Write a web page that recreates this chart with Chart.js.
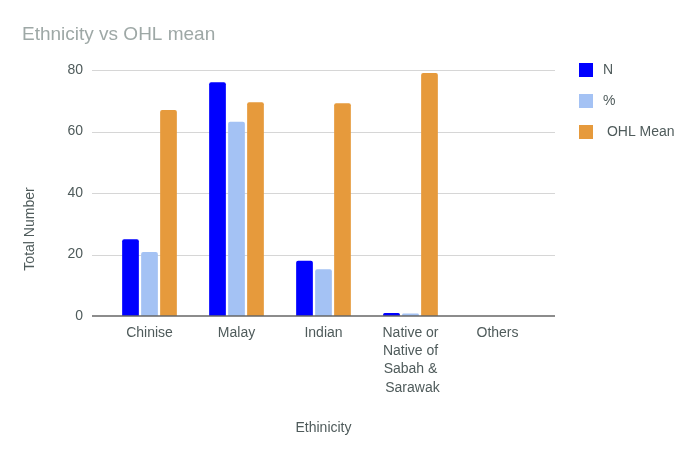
<!DOCTYPE html>
<html>
<head>
<meta charset="utf-8">
<title>Ethnicity vs OHL mean</title>
<script src="https://cdn.jsdelivr.net/npm/chart.js@4.4.1/dist/chart.umd.min.js"></script>
<style>
  html, body { margin: 0; padding: 0; background: #fff; }
  #wrap { width: 698px; height: 460px; }
</style>
</head>
<body>
<div id="wrap"><canvas id="grafico" width="698" height="460"></canvas></div>
<script>
// dados
const categorias = ['Chinise', 'Malay', 'Indian', ['Native or', 'Native of', 'Sabah &', ' Sarawak'], 'Others'];
const valoresN = [25, 76, 18, 1, null];
const valoresPct = [20.8, 63.2, 15.2, 0.8, null];
const valoresOHL = [67, 69.5, 69.2, 79, null];
const ticksY = [0, 20, 40, 60, 80];

const corTexto = '#4f5b5b';
const fonte = 'Arial, "Liberation Sans", sans-serif';

// linhas de grade mais largas que a área das barras, título, legenda e títulos dos eixos
const extras = {
  id: 'extras',
  beforeDatasetsDraw(chart) {
    const { ctx, chartArea, scales } = chart;
    ctx.save();
    ctx.strokeStyle = '#d6d6d6';
    ctx.lineWidth = 1;
    ticksY.forEach(t => {
      if (t === 0) return;
      const y = Math.round(scales.y.getPixelForValue(t)) + 0.5;
      ctx.beginPath();
      ctx.moveTo(chartArea.left - 14, y);
      ctx.lineTo(chartArea.right + 14, y);
      ctx.stroke();
    });
    ctx.restore();
  },
  afterDatasetsDraw(chart) {
    const { ctx, chartArea, scales } = chart;
    ctx.save();
    // linha do zero
    ctx.strokeStyle = '#666';
    ctx.lineWidth = 1.5;
    const y0 = scales.y.getPixelForValue(0);
    ctx.beginPath();
    ctx.moveTo(chartArea.left - 14, y0);
    ctx.lineTo(chartArea.right + 14, y0);
    ctx.stroke();

    // título
    ctx.fillStyle = '#9ea8a6';
    ctx.font = '19px ' + fonte;
    ctx.textBaseline = 'middle';
    ctx.textAlign = 'left';
    ctx.fillText('Ethnicity vs OHL mean', 22, 35);

    // título do eixo x
    ctx.fillStyle = corTexto;
    ctx.font = '14px ' + fonte;
    ctx.textAlign = 'center';
    ctx.fillText('Ethinicity', (chartArea.left + chartArea.right) / 2, 428);

    // título do eixo y
    ctx.save();
    ctx.translate(30, 229);
    ctx.rotate(-Math.PI / 2);
    ctx.fillText('Total Number', 0, 0);
    ctx.restore();

    // legenda
    ctx.textAlign = 'left';
    chart.data.datasets.forEach((ds, i) => {
      const cy = 70 + i * 31;
      ctx.fillStyle = ds.backgroundColor;
      ctx.fillRect(579, cy - 7, 14, 14);
      ctx.fillStyle = corTexto;
      ctx.fillText(ds.label, 603, cy);
    });
    ctx.restore();
  }
};

const ctx = document.getElementById('grafico').getContext('2d');
new Chart(ctx, {
  type: 'bar',
  data: {
    labels: categorias,
    datasets: [
      { label: 'N', data: valoresN, backgroundColor: '#0000ff' },
      { label: '%', data: valoresPct, backgroundColor: '#a4c2f4' },
      { label: ' OHL Mean', data: valoresOHL, backgroundColor: '#e69a3c' }
    ]
  },
  options: {
    responsive: false,
    animation: false,
    devicePixelRatio: 1,
    layout: { padding: { left: 0, right: 157, top: 70, bottom: 0 } },
    datasets: {
      bar: { categoryPercentage: 0.655, barPercentage: 0.88, borderRadius: 2 }
    },
    plugins: {
      legend: { display: false },
      title: { display: false },
      tooltip: { enabled: false }
    },
    scales: {
      x: {
        grid: { display: false, drawTicks: false },
        border: { display: false },
        ticks: {
          color: corTexto,
          padding: 8,
          maxRotation: 0,
          autoSkip: false,
          font: { family: fonte, size: 14, lineHeight: 1.3 }
        },
        afterFit(scale) { scale.height = 144; }
      },
      y: {
        min: 0,
        max: 80,
        grid: { display: false, drawTicks: false },
        border: { display: false },
        ticks: {
          stepSize: 20,
          color: corTexto,
          padding: 23,
          font: { family: fonte, size: 14 }
        },
        afterFit(scale) { scale.width = 106; }
      }
    }
  },
  plugins: [extras]
});
</script>
</body>
</html>
